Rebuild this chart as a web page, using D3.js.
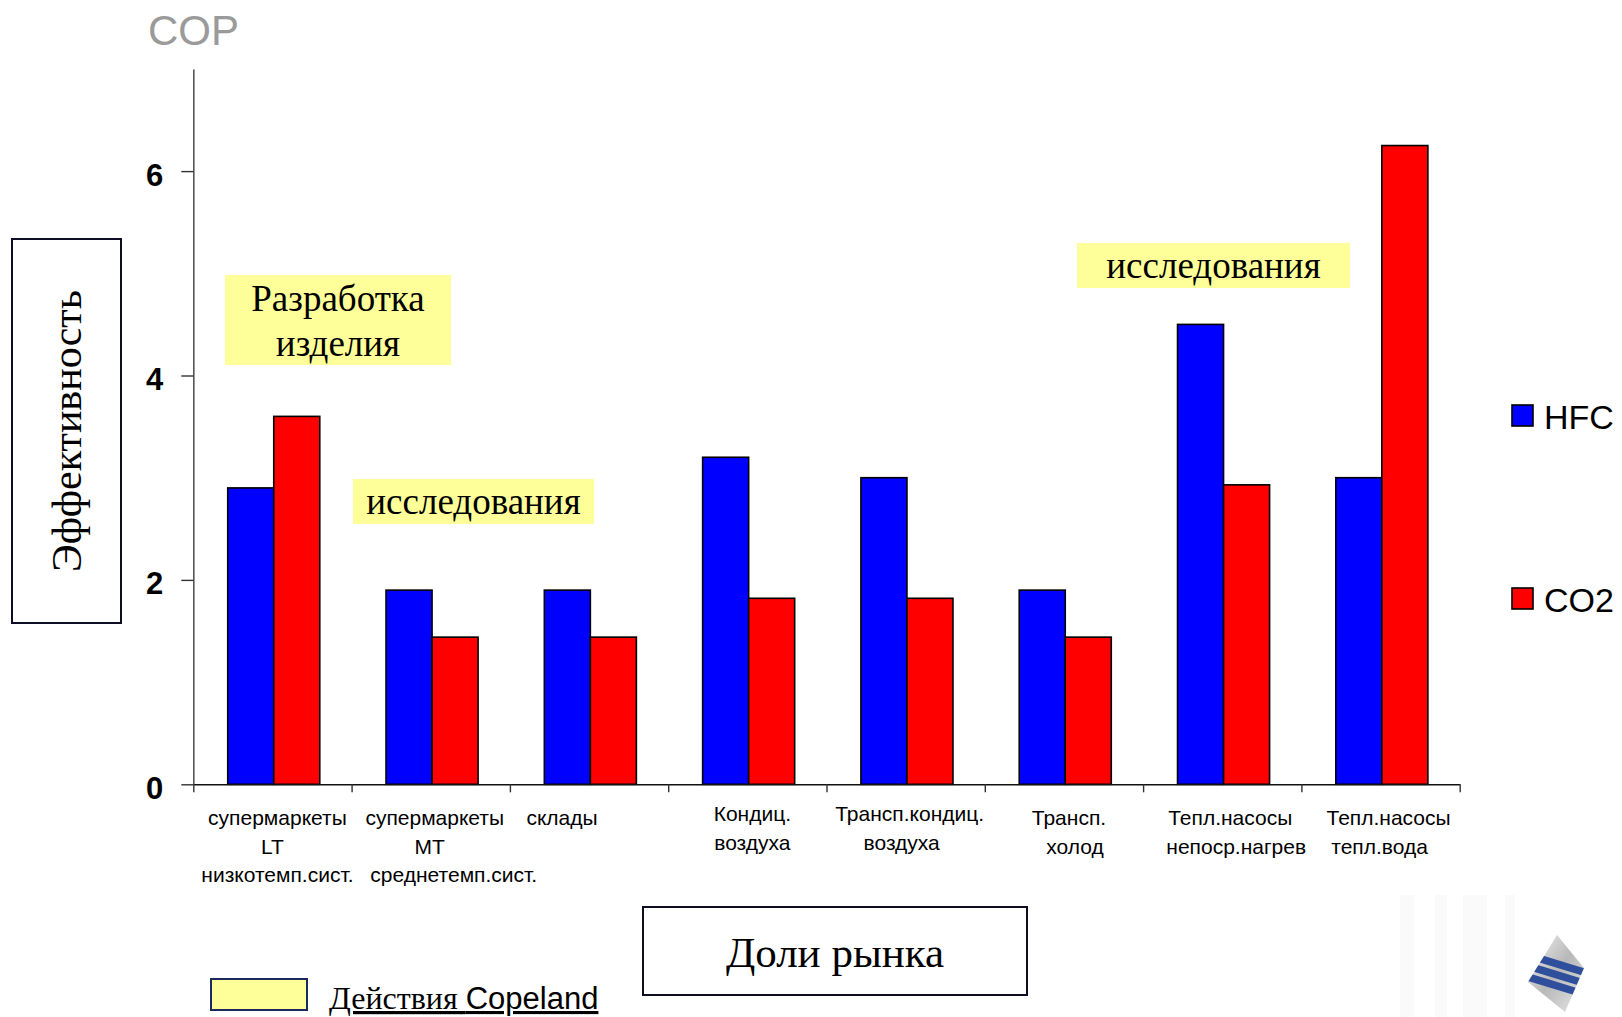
<!DOCTYPE html>
<html lang="ru">
<head>
<meta charset="utf-8">
<title>COP — HFC / CO2</title>
<script src="https://cdn.jsdelivr.net/npm/d3@7/dist/d3.min.js"></script>
<style>
  html, body { margin: 0; padding: 0; background: #fff; }
  svg { display: block; }
  .sans { font-family: "Liberation Sans", Arial, sans-serif; }
  .serif { font-family: "Liberation Serif", "Times New Roman", serif; }
</style>
</head>
<body>
<svg id="chart" width="1622" height="1017"></svg>
<script>
// ---- data ----
const categoryLabels = [
  ["супермаркеты", "LT", "низкотемп.сист."],
  ["супермаркеты", "MT", "среднетемп.сист."],
  ["склады"],
  ["Кондиц.", "воздуха"],
  ["Трансп.кондиц.", "воздуха"],
  ["Трансп.", "холод"],
  ["Тепл.насосы", "непоср.нагрев"],
  ["Тепл.насосы", "тепл.вода"]
];
const seriesNames = ["HFC", "CO2"];
const hfcValues = [2.9, 1.9, 1.9, 3.2, 3.0, 1.9, 4.5, 3.0];
const co2Values = [3.6, 1.44, 1.44, 1.82, 1.82, 1.44, 2.93, 6.25];
const yTickValues = [0, 2, 4, 6];
const yMax = 7;
const titleText = "COP";
const yTitle = "Эффективность";
const xTitle = "Доли рынка";
const noteDevelopment = ["Разработка", "изделия"];
const noteResearch = "исследования";
const actionLegend = ["Действия", "Copeland"];

// ---- layout ----
const W = 1622, H = 1017;
const plot = { left: 193.3, right: 1459.7, top: 68.9, bottom: 784.3 };
const colors = { HFC: "#0000ff", CO2: "#ff0000" };
const noteFill = "#ffff99";
// horizontal nudges of each caption line from its category centre, px
const lineShift = [
  [5, 0, 5],
  [4, -1, 23],
  [-27],
  [5, 5],
  [4, -4],
  [5, 11],
  [8, 14],
  [8, -1]
];
const labelFirstLine = [825, 825, 825, 821, 821, 825, 825, 825];

const svg = d3.select("#chart");

// faint backdrop columns behind the logo
const backdrop = svg.append("g").attr("fill", "#f4f4f4").attr("opacity", 0.45);
[[1400, 14], [1435, 12], [1463, 24], [1505, 10]].forEach(([bx, bw]) => {
  backdrop.append("rect").attr("x", bx).attr("y", 895).attr("width", bw).attr("height", H - 895);
});

const x0 = d3.scaleBand()
  .domain(d3.range(categoryLabels.length))
  .range([plot.left, plot.right])
  .paddingInner(0).paddingOuter(0);
const x1 = d3.scaleBand()
  .domain(seriesNames)
  .range([0, x0.bandwidth()])
  .paddingInner(0).paddingOuter(0.72);
const y = d3.scaleLinear().domain([0, yMax]).range([plot.bottom, plot.top]);
const xEdges = d3.scaleLinear().domain([0, categoryLabels.length]).range([plot.left, plot.right]);

// ---- title ----
svg.append("text").attr("class", "sans")
  .attr("x", 148).attr("y", 45)
  .attr("font-size", 42).attr("fill", "#9a9a9a")
  .text(titleText);

// ---- annotation boxes ----
function note(x, yTop, w, h, lines, baselines) {
  const g = svg.append("g");
  g.append("rect").attr("x", x).attr("y", yTop).attr("width", w).attr("height", h).attr("fill", noteFill);
  lines.forEach((t, i) => {
    g.append("text").attr("class", "serif")
      .attr("x", x + w / 2).attr("y", baselines[i])
      .attr("text-anchor", "middle").attr("font-size", 37).attr("fill", "#000")
      .text(t);
  });
}
note(225, 275, 226, 90, noteDevelopment, [311, 356]);
note(353, 479, 241, 45, [noteResearch], [514]);
note(1077, 243, 273, 45, [noteResearch], [278]);

// ---- bars ----
const rows = categoryLabels.map((_, i) => ({ i, HFC: hfcValues[i], CO2: co2Values[i] }));
const groups = svg.append("g").selectAll("g").data(rows).join("g")
  .attr("transform", d => `translate(${x0(d.i) + 1.3},0)`);
groups.selectAll("rect")
  .data(d => seriesNames.map(k => ({ key: k, value: d[k] })))
  .join("rect")
  .attr("x", d => x1(d.key))
  .attr("y", d => y(d.value))
  .attr("width", x1.bandwidth())
  .attr("height", d => y(0) - y(d.value))
  .attr("fill", d => colors[d.key])
  .attr("stroke", "#000").attr("stroke-width", 1.6);

// ---- axes ----
const yAxis = svg.append("g")
  .attr("transform", `translate(${plot.left},0)`)
  .call(d3.axisLeft(y).tickValues(yTickValues).tickSize(12).tickSizeOuter(0).tickPadding(18).tickFormat(d3.format("d")));
yAxis.select(".domain").attr("stroke", "#555").attr("stroke-width", 1.6);
yAxis.selectAll(".tick line").attr("stroke", "#333").attr("stroke-width", 1.4);
yAxis.selectAll(".tick text")
  .attr("class", "sans").attr("font-size", 31).attr("font-weight", "bold")
  .attr("fill", "#000").attr("dy", "0.45em");

const xAxis = svg.append("g")
  .attr("transform", `translate(0,${plot.bottom})`)
  .call(d3.axisBottom(xEdges).tickValues(d3.range(categoryLabels.length + 1)).tickSize(8).tickSizeOuter(0).tickFormat(""));
xAxis.select(".domain").attr("stroke", "#111").attr("stroke-width", 1.6);
xAxis.selectAll(".tick line").attr("stroke", "#333").attr("stroke-width", 1.4);

// ---- category captions ----
const captions = svg.append("g").attr("class", "sans").attr("font-size", 21).attr("fill", "#000");
categoryLabels.forEach((lines, i) => {
  const cx = x0(i) + x0.bandwidth() / 2;
  lines.forEach((t, j) => {
    captions.append("text")
      .attr("x", cx + lineShift[i][j]).attr("y", labelFirstLine[i] + j * 28.5)
      .attr("text-anchor", "middle").text(t);
  });
});

// ---- series legend ----
const legend = svg.append("g");
seriesNames.forEach((k, i) => {
  const ly = 405 + i * 183;
  legend.append("rect").attr("x", 1512).attr("y", ly).attr("width", 21).attr("height", 21)
    .attr("fill", colors[k]).attr("stroke", "#000").attr("stroke-width", 1.6);
  legend.append("text").attr("class", "sans")
    .attr("x", 1544).attr("y", ly + 24).attr("font-size", 34).attr("fill", "#000")
    .text(k);
});

// ---- axis title boxes ----
svg.append("rect").attr("x", 12).attr("y", 239).attr("width", 109).attr("height", 384)
  .attr("fill", "#fff").attr("stroke", "#0d0d26").attr("stroke-width", 2);
svg.append("text").attr("class", "serif")
  .attr("transform", "translate(81,431) rotate(-90)")
  .attr("text-anchor", "middle").attr("font-size", 42).attr("fill", "#000")
  .text(yTitle);

svg.append("rect").attr("x", 643).attr("y", 907).attr("width", 384).attr("height", 88)
  .attr("fill", "#fff").attr("stroke", "#0d0d26").attr("stroke-width", 2);
svg.append("text").attr("class", "serif")
  .attr("x", 835).attr("y", 967)
  .attr("text-anchor", "middle").attr("font-size", 43).attr("fill", "#000")
  .text(xTitle);

// ---- "Copeland" legend ----
svg.append("rect").attr("x", 211).attr("y", 979).attr("width", 96).attr("height", 31)
  .attr("fill", noteFill).attr("stroke", "#1a2a5a").attr("stroke-width", 2);
const act = svg.append("text").attr("x", 329).attr("y", 1009).attr("fill", "#000")
  .attr("text-decoration", "underline");
act.append("tspan").attr("class", "serif").attr("font-size", 32).text(actionLegend[0] + " ");
act.append("tspan").attr("class", "sans").attr("font-size", 31).text(actionLegend[1]);

// ---- logo ----
const defs = svg.append("defs");
const silver = defs.append("linearGradient").attr("id", "silver")
  .attr("x1", "0").attr("y1", "0").attr("x2", "1").attr("y2", "1");
silver.append("stop").attr("offset", "0").attr("stop-color", "#f4f4f4");
silver.append("stop").attr("offset", "0.5").attr("stop-color", "#b8b8b8");
silver.append("stop").attr("offset", "1").attr("stop-color", "#e8e8e8");
const diamond = [[1557, 935], [1584, 968], [1565, 1012], [1528, 982]];
defs.append("clipPath").attr("id", "logoClip")
  .append("polygon").attr("points", diamond.map(p => p.join(",")).join(" "));
const logo = svg.append("g");
logo.append("polygon").attr("points", diamond.map(p => p.join(",")).join(" ")).attr("fill", "url(#silver)");
const stripes = logo.append("g").attr("clip-path", "url(#logoClip)");
[-11, 0, 11].forEach(off => {
  stripes.append("line")
    .attr("x1", 1515).attr("y1", 962 + off).attr("x2", 1600).attr("y2", 988 + off)
    .attr("stroke", "#2f4f9c").attr("stroke-width", 7.5);
});
</script>
</body>
</html>
